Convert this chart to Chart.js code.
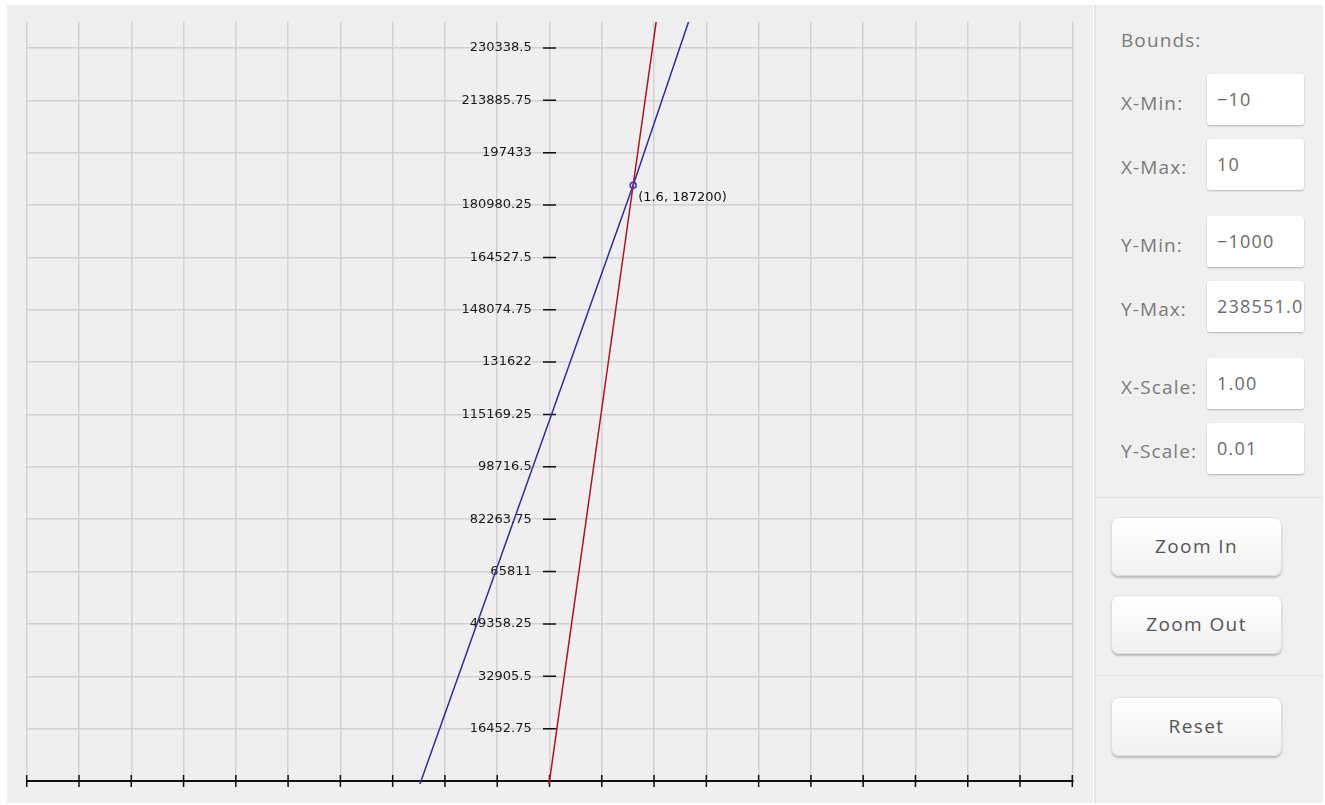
<!DOCTYPE html>
<html>
<head>
<meta charset="utf-8">
<script src="https://cdn.jsdelivr.net/npm/chart.js@4"></script>
<style>
html, body { margin:0; padding:0; background:#fff; width:1325px; height:805px; overflow:hidden; }
#plot { position:absolute; left:7px; top:5px; width:1086px; height:798px; background:#efefef; }
#panel { position:absolute; left:1094px; top:5px; width:229px; height:798px; background:#f0f0f0;
  border-left:2px solid #e3e3e3; box-sizing:border-box; font-family:"Open Sans", sans-serif; color:#7b7b7b; }
.lbl { position:absolute; left:25px; font-size:19px; line-height:24px; letter-spacing:1.1px; white-space:nowrap; }
.box { position:absolute; left:111px; width:97px; height:51px; background:#fff; border-radius:3px;
  box-shadow:0 1px 2px rgba(0,0,0,0.25); box-sizing:border-box; padding-left:10px;
  font-size:18px; line-height:51px; letter-spacing:1.2px; color:#6a6a6a; overflow:hidden; white-space:nowrap; }
.sep { position:absolute; left:0; width:227px; height:1px; background:#e2e2e2; }
.btn { position:absolute; left:15px; width:171px; height:59px; border-radius:8px; box-sizing:border-box;
  border:1px solid #e0e0e0; background:linear-gradient(#ffffff, #f1f1f1);
  box-shadow:0 2px 2px rgba(0,0,0,0.22); text-align:center; line-height:57px; font-size:19px;
  letter-spacing:1.4px; color:#555; }
</style>
</head>
<body>
<div id="plot"><canvas id="c"></canvas></div>
<div id="panel">
  <div class="lbl" style="top:23px">Bounds:</div>
  <div class="lbl" style="top:86px">X-Min:</div>
  <div class="box" style="top:69px">−10</div>
  <div class="lbl" style="top:150px">X-Max:</div>
  <div class="box" style="top:134px">10</div>
  <div class="lbl" style="top:228px">Y-Min:</div>
  <div class="box" style="top:211px">−1000</div>
  <div class="lbl" style="top:292px">Y-Max:</div>
  <div class="box" style="top:276px">238551.0</div>
  <div class="lbl" style="top:370px">X-Scale:</div>
  <div class="box" style="top:353px">1.00</div>
  <div class="lbl" style="top:434px">Y-Scale:</div>
  <div class="box" style="top:418px">0.01</div>
  <div class="sep" style="top:492px"></div>
  <div class="btn" style="top:512px">Zoom In</div>
  <div class="btn" style="top:590px">Zoom Out</div>
  <div class="sep" style="top:670px"></div>
  <div class="btn" style="top:692px">Reset</div>
</div>
<script>
// ---- data ----
const xBounds = [-10, 10];
const yBounds = [-1000, 238551];
const xTicks = [-10, -9, -8, -7, -6, -5, -4, -3, -2, -1, 0, 1, 2, 3, 4, 5, 6, 7, 8, 9, 10];
const yTicks = [16452.75, 32905.5, 49358.25, 65811, 82263.75, 98716.5, 115169.25,
                131622, 148074.75, 164527.5, 180980.25, 197433, 213885.75, 230338.5];
const yTickLabels = ['16452.75', '32905.5', '49358.25', '65811', '82263.75', '98716.5', '115169.25',
                     '131622', '148074.75', '164527.5', '180980.25', '197433', '213885.75', '230338.5'];
const redX = [-0.01, 0, 1.6, 2.04];
const redY = [-1000, 0, 187200, 238551];
const blueX = [-2.48, 1.6, 2.66];
const blueY = [-1000, 187200, 238551];
const pointX = [1.6];
const pointY = [187200];
const pointLabels = ['(1.6, 187200)'];

const toXY = (xs, ys) => xs.map((x, i) => ({ x: x, y: ys[i] }));
const LABEL_FONT = '"DejaVu Sans", Verdana, sans-serif';

const marksPlugin = {
  id: 'marks',
  beforeDatasetsDraw(chart) {
    const ctx = chart.ctx, xs = chart.scales.x, ys = chart.scales.y;
    const x0 = xs.getPixelForValue(0), y0 = ys.getPixelForValue(0);
    ctx.save();
    ctx.strokeStyle = '#111';
    ctx.lineWidth = 1.5;
    ctx.beginPath();
    xTicks.forEach(v => { const p = xs.getPixelForValue(v); ctx.moveTo(p, y0 - 6); ctx.lineTo(p, y0 + 6); });
    yTicks.forEach(v => { const p = ys.getPixelForValue(v); ctx.moveTo(x0 - 6.5, p); ctx.lineTo(x0 + 6.5, p); });
    ctx.stroke();
    ctx.restore();
  },
  afterDatasetsDraw(chart) {
    const ctx = chart.ctx, xs = chart.scales.x, ys = chart.scales.y;
    ctx.save();
    ctx.font = '13px ' + LABEL_FONT;
    ctx.fillStyle = '#111';
    ctx.textBaseline = 'middle';
    ctx.textAlign = 'left';
    pointX.forEach((x, i) => {
      ctx.fillText(pointLabels[i], xs.getPixelForValue(x) + 5, ys.getPixelForValue(pointY[i]) + 12);
    });
    ctx.restore();
  }
};

new Chart(document.getElementById('c'), {
  type: 'scatter',
  data: {
    datasets: [
      { data: toXY(redX, redY), showLine: true, borderColor: '#b3141c', borderWidth: 1.5, pointRadius: 0 },
      { data: toXY(blueX, blueY), showLine: true, borderColor: '#2e2e9c', borderWidth: 1.5, pointRadius: 0 },
      { data: toXY(pointX, pointY), showLine: false, pointRadius: 3, borderColor: '#2a2aff', borderWidth: 1.5,
        backgroundColor: 'rgba(230,230,255,0.9)' }
    ]
  },
  options: {
    responsive: true,
    maintainAspectRatio: false,
    animation: false,
    events: [],
    layout: { padding: { left: 19.7, right: 20.7, top: 16.8, bottom: 18.8 } },
    plugins: { legend: { display: false }, tooltip: { enabled: false } },
    scales: {
      x: {
        type: 'linear', min: xBounds[0], max: xBounds[1],
        position: { y: 0 },
        afterFit(s) { s.height = 0; },
        afterBuildTicks(s) { s.ticks = xTicks.map(v => ({ value: v })); },
        ticks: { display: false },
        grid: { color: '#d2d2d2', lineWidth: 1.5, drawTicks: false },
        border: { display: true, color: '#111', width: 2 }
      },
      y: {
        type: 'linear', min: yBounds[0], max: yBounds[1],
        // labels are anchored a little left of x = 0, where the tick dashes sit
        position: { x: -0.34 },
        afterFit(s) { s.width = 0; },
        afterBuildTicks(s) { s.ticks = yTicks.map(v => ({ value: v })); },
        ticks: {
          autoSkip: false,
          color: '#1a1a1a',
          font: { family: LABEL_FONT, size: 13 },
          callback: (v) => { const i = yTicks.indexOf(v); return i >= 0 ? yTickLabels[i] : ''; }
        },
        grid: { color: '#d2d2d2', lineWidth: 1.5, drawTicks: false },
        border: { display: false }
      }
    }
  },
  plugins: [marksPlugin]
});
</script>
</body>
</html>
